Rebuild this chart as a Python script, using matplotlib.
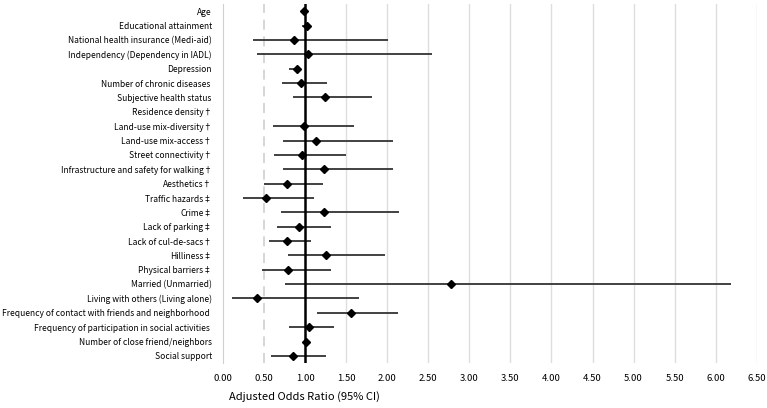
import numpy as np
import matplotlib
matplotlib.use("Agg")
import matplotlib.pyplot as plt

plt.rcParams['font.family'] = ['Noto Sans CJK KR', 'DejaVu Sans']

labels = [
    "Age", "Educational attainment", "National health insurance (Medi-aid)",
    "Independency (Dependency in IADL)", "Depression", "Number of chronic diseases ",
    "Subjective health status", "Residence density\u2020", "Land-use mix-diversity\u2020",
    "Land-use mix-access\u2020", "Street connectivity\u2020",
    "Infrastructure and safety for walking\u2020", "Aesthetics\u2020",
    "Traffic hazards\u2021", "Crime\u2021", "Lack of parking\u2021",
    "Lack of cul-de-sacs\u2020", "Hilliness\u2021", "Physical barriers\u2021",
    "Married (Unmarried)", "Living with others (Living alone)",
    "Frequency of contact with friends and neighborhood ",
    "Frequency of participation in social activities ",
    "Number of close friend/neighbors", "Social support",
]
odds = [0.99, 1.02, 0.86, 1.04, 0.90, 0.95, 1.24, np.nan, 0.99, 1.13, 0.96, 1.23,
        0.78, 0.52, 1.23, 0.93, 0.78, 1.26, 0.79, 2.78, 0.41, 1.56, 1.05, 1.01, 0.85]
ci_low = [0.95, 0.96, 0.37, 0.42, 0.81, 0.72, 0.85, np.nan, 0.61, 0.73, 0.62, 0.73,
          0.50, 0.24, 0.71, 0.66, 0.56, 0.79, 0.48, 0.76, 0.11, 1.15, 0.81, 0.97, 0.58]
ci_high = [1.02, 1.07, 2.01, 2.55, 0.95, 1.27, 1.82, np.nan, 1.59, 2.07, 1.50, 2.07,
           1.22, 1.11, 2.14, 1.32, 1.07, 1.97, 1.32, 6.18, 1.66, 2.13, 1.35, 1.04, 1.25]
xticks = np.arange(0, 6.51, 0.5)

fig = plt.figure(figsize=(7.67, 4.08), dpi=100)
ax = fig.add_axes([0.2907, 0.110, 0.6960, 0.880])

y = np.arange(len(labels))
for xv in xticks[1:]:
    if xv == 0.5:
        ax.axvline(xv, color='#d0d0d0', lw=1.2, ls=(0, (6, 4)), zorder=0)
    elif xv != 1.0:
        ax.axvline(xv, color='#dedede', lw=1.0, zorder=0)

ax.hlines(y, ci_low, ci_high, color='#333333', lw=1.3, zorder=2)
ax.axvline(1.0, color='black', lw=1.8, zorder=3)
ax.plot(odds, y, 'D', color='black', ms=4.0, zorder=4, ls='none')

ax.set_xlim(0, 6.5)
ax.set_ylim(len(labels) - 0.5, -0.5)
ax.set_yticks(y)
ax.set_yticklabels(labels, fontsize=6.1)
ax.set_xticks(xticks)
ax.set_xticklabels([f"{v:.2f}" for v in xticks], fontsize=6.8)
ax.tick_params(length=0)
ax.tick_params(axis='y', pad=8)
ax.tick_params(axis='x', pad=8)

for s in ['top', 'right', 'bottom']:
    ax.spines[s].set_visible(False)
ax.spines['left'].set_color('#d0d0d0')

fig.text(304 / 767, 1 - 397 / 408, "Adjusted Odds Ratio (95% CI)",
         ha='center', va='center', fontsize=8)

fig.savefig("out.png", dpi=100)
